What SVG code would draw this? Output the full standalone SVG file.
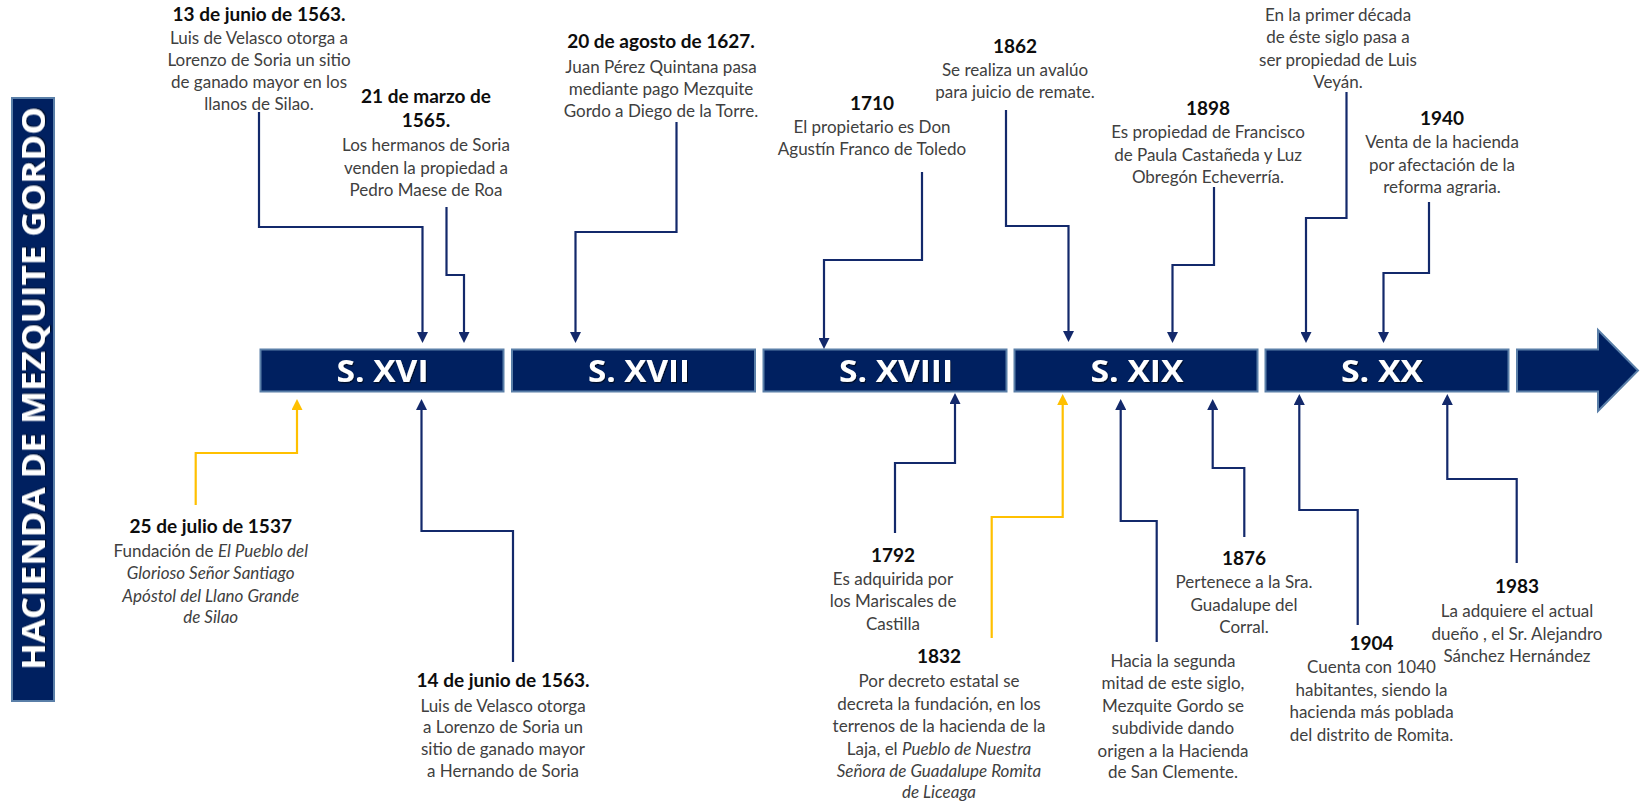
<svg xmlns="http://www.w3.org/2000/svg" width="1641" height="805" viewBox="0 0 1641 805">
<style>
.bar{fill:#002060;stroke:#5a7fa8;stroke-width:2}
.bl{font-family:"Open Sans","DejaVu Sans",sans-serif;font-weight:700;font-size:31px;fill:#fff;text-anchor:middle;filter:url(#sh)}
.t{font-family:Lato,"Liberation Sans",sans-serif;font-size:17px;fill:#404040;text-anchor:middle}
.h{font-weight:700;fill:#0d0d0d;font-size:19px}
.i{font-style:italic}
.cn{fill:none;stroke:#13296b;stroke-width:2.2}
.cy{fill:none;stroke:#ffc000;stroke-width:2.2}
</style>
<defs>
<filter id="sh" x="-10%" y="-20%" width="130%" height="150%"><feDropShadow dx="1" dy="1.3" stdDeviation="0.6" flood-color="#000" flood-opacity="0.6"/></filter>
<marker id="an" markerUnits="userSpaceOnUse" markerWidth="11" markerHeight="11" refX="6" refY="5.5" orient="auto"><path d="M0,0 L11,5.5 L0,11 z" fill="#13296b"/></marker>
<marker id="ay" markerUnits="userSpaceOnUse" markerWidth="11" markerHeight="11" refX="6" refY="5.5" orient="auto"><path d="M0,0 L11,5.5 L0,11 z" fill="#ffc000"/></marker>
</defs>

<g id="title">
<rect x="12" y="98" width="42" height="603" class="bar"/>
<text transform="translate(45,388.5) rotate(-90)" x="0" y="0" text-anchor="middle" textLength="563" lengthAdjust="spacingAndGlyphs" style="font-family:'Open Sans','DejaVu Sans',sans-serif;font-weight:700;font-size:33px;fill:#fff" filter="url(#sh)">HACIENDA  DE MEZQUITE GORDO</text>
</g>

<g id="timeline">
<g id="s16"><rect x="260.5" y="349.5" width="243" height="42" class="bar"/><text x="382.5" y="382" class="bl" textLength="92" lengthAdjust="spacingAndGlyphs">S. XVI</text></g>
<g id="s17"><rect x="512" y="349.5" width="243" height="42" class="bar"/><text x="639" y="382" class="bl" textLength="102" lengthAdjust="spacingAndGlyphs">S. XVII</text></g>
<g id="s18"><rect x="763.5" y="349.5" width="243" height="42" class="bar"/><text x="896" y="382" class="bl" textLength="114" lengthAdjust="spacingAndGlyphs">S. XVIII</text></g>
<g id="s19"><rect x="1014.5" y="349.5" width="243" height="42" class="bar"/><text x="1137" y="382" class="bl" textLength="93" lengthAdjust="spacingAndGlyphs">S. XIX</text></g>
<g id="s20"><rect x="1265.5" y="349.5" width="243" height="42" class="bar"/><text x="1382" y="382" class="bl" textLength="82" lengthAdjust="spacingAndGlyphs">S. XX</text></g>
<g id="arrow"><polygon points="1517,349.5 1598,349.5 1598,330 1638,370.5 1598,411 1598,391.5 1517,391.5" class="bar"/></g>
</g>

<g id="connectors">
<path class="cn" marker-end="url(#an)" d="M259,112 V227 H422.5 V338"/>
<path class="cn" marker-end="url(#an)" d="M446.5,207 V275 H464 V338"/>
<path class="cn" marker-end="url(#an)" d="M676.5,122 V232 H575.5 V338"/>
<path class="cn" marker-end="url(#an)" d="M922,172 V260 H824 V344"/>
<path class="cn" marker-end="url(#an)" d="M1006,110 V226 H1068.5 V337"/>
<path class="cn" marker-end="url(#an)" d="M1214,187 V265 H1172.5 V338"/>
<path class="cn" marker-end="url(#an)" d="M1346.5,92 V218 H1306 V338"/>
<path class="cn" marker-end="url(#an)" d="M1429,202 V273 H1383.5 V338"/>
<path class="cy" marker-end="url(#ay)" d="M195.7,505 V453 H297 V404"/>
<path class="cn" marker-end="url(#an)" d="M513,662 V531 H421.5 V404"/>
<path class="cn" marker-end="url(#an)" d="M895,533 V463 H955 V398"/>
<path class="cy" marker-end="url(#ay)" d="M991.7,638 V517 H1062.7 V399"/>
<path class="cn" marker-end="url(#an)" d="M1156.7,642 V521 H1120.7 V404"/>
<path class="cn" marker-end="url(#an)" d="M1244.3,537 V468 H1212.7 V404"/>
<path class="cn" marker-end="url(#an)" d="M1357.7,625 V510 H1299.3 V399"/>
<path class="cn" marker-end="url(#an)" d="M1516.7,563 V479 H1447.3 V399"/>
</g>

<g id="e1563a">
<text class="t h" x="259" y="21">13 de junio de 1563.</text>
<text class="t" x="259" y="44">Luis de Velasco otorga a</text>
<text class="t" x="259" y="66">Lorenzo de Soria un sitio</text>
<text class="t" x="259" y="88">de ganado mayor en los</text>
<text class="t" x="259" y="110">llanos de Silao.</text>
</g>
<g id="e1565">
<text class="t h" x="426" y="103">21 de marzo de</text>
<text class="t h" x="426" y="127">1565.</text>
<text class="t" x="426" y="151">Los hermanos de Soria</text>
<text class="t" x="426" y="174">venden la propiedad a</text>
<text class="t" x="426" y="196">Pedro Maese de Roa</text>
</g>
<g id="e1627">
<text class="t h" x="661" y="48">20 de agosto de 1627.</text>
<text class="t" x="661" y="72.5">Juan Pérez Quintana pasa</text>
<text class="t" x="661" y="95">mediante pago Mezquite</text>
<text class="t" x="661" y="117">Gordo a Diego de la Torre.</text>
</g>
<g id="e1710">
<text class="t h" x="872" y="110">1710</text>
<text class="t" x="872" y="133">El propietario es Don</text>
<text class="t" x="872" y="155">Agustín Franco de Toledo</text>
</g>
<g id="e1862">
<text class="t h" x="1015" y="53">1862</text>
<text class="t" x="1015" y="76">Se realiza un avalúo</text>
<text class="t" x="1015" y="98">para juicio de remate.</text>
</g>
<g id="e1898">
<text class="t h" x="1208" y="115">1898</text>
<text class="t" x="1208" y="138">Es propiedad de Francisco</text>
<text class="t" x="1208" y="161">de Paula Castañeda y Luz</text>
<text class="t" x="1208" y="183">Obregón Echeverría.</text>
</g>
<g id="e1900s">
<text class="t" x="1338" y="21">En la primer década</text>
<text class="t" x="1338" y="43">de éste siglo pasa a</text>
<text class="t" x="1338" y="66">ser propiedad de Luis</text>
<text class="t" x="1338" y="88">Veyán.</text>
</g>
<g id="e1940">
<text class="t h" x="1442" y="125">1940</text>
<text class="t" x="1442" y="148">Venta de la hacienda</text>
<text class="t" x="1442" y="171">por afectación de la</text>
<text class="t" x="1442" y="193">reforma agraria.</text>
</g>
<g id="e1537">
<text class="t h" x="210.7" y="533">25 de julio de 1537</text>
<text class="t" x="210.7" y="557">Fundación de <tspan class="i">El Pueblo del</tspan></text>
<text class="t i" x="210.7" y="579">Glorioso Señor Santiago</text>
<text class="t i" x="210.7" y="602">Apóstol del Llano Grande</text>
<text class="t i" x="210.7" y="623">de Silao</text>
</g>
<g id="e1563b">
<text class="t h" x="503" y="687">14 de junio de 1563.</text>
<text class="t" x="503" y="711.5">Luis de Velasco otorga</text>
<text class="t" x="503" y="733">a Lorenzo de Soria un</text>
<text class="t" x="503" y="755">sitio de ganado mayor</text>
<text class="t" x="503" y="777">a Hernando de Soria</text>
</g>
<g id="e1792">
<text class="t h" x="893" y="562">1792</text>
<text class="t" x="893" y="585">Es adquirida por</text>
<text class="t" x="893" y="607">los Mariscales de</text>
<text class="t" x="893" y="630">Castilla</text>
</g>
<g id="e1832">
<text class="t h" x="939" y="663">1832</text>
<text class="t" x="939" y="687">Por decreto estatal se</text>
<text class="t" x="939" y="710">decreta la fundación, en los</text>
<text class="t" x="939" y="732">terrenos de la hacienda de la</text>
<text class="t" x="939" y="755">Laja, el  <tspan class="i">Pueblo de Nuestra</tspan></text>
<text class="t i" x="939" y="777">Señora de Guadalupe Romita</text>
<text class="t i" x="939" y="798">de Liceaga</text>
</g>
<g id="e1850">
<text class="t" x="1173" y="667">Hacia la segunda</text>
<text class="t" x="1173" y="689">mitad de este siglo,</text>
<text class="t" x="1173" y="712">Mezquite Gordo se</text>
<text class="t" x="1173" y="734">subdivide dando</text>
<text class="t" x="1173" y="757">origen a la Hacienda</text>
<text class="t" x="1173" y="778">de San Clemente.</text>
</g>
<g id="e1876">
<text class="t h" x="1244" y="565">1876</text>
<text class="t" x="1244" y="588">Pertenece a la Sra.</text>
<text class="t" x="1244" y="611">Guadalupe del</text>
<text class="t" x="1244" y="633">Corral.</text>
</g>
<g id="e1904">
<text class="t h" x="1371.5" y="650">1904</text>
<text class="t" x="1371.5" y="673">Cuenta con 1040</text>
<text class="t" x="1371.5" y="696">habitantes, siendo la</text>
<text class="t" x="1371.5" y="718">hacienda más poblada</text>
<text class="t" x="1371.5" y="741">del distrito de Romita.</text>
</g>
<g id="e1983">
<text class="t h" x="1517" y="593">1983</text>
<text class="t" x="1517" y="617">La adquiere el actual</text>
<text class="t" x="1517" y="640">dueño , el Sr. Alejandro</text>
<text class="t" x="1517" y="662">Sánchez Hernández</text>
</g>
</svg>
